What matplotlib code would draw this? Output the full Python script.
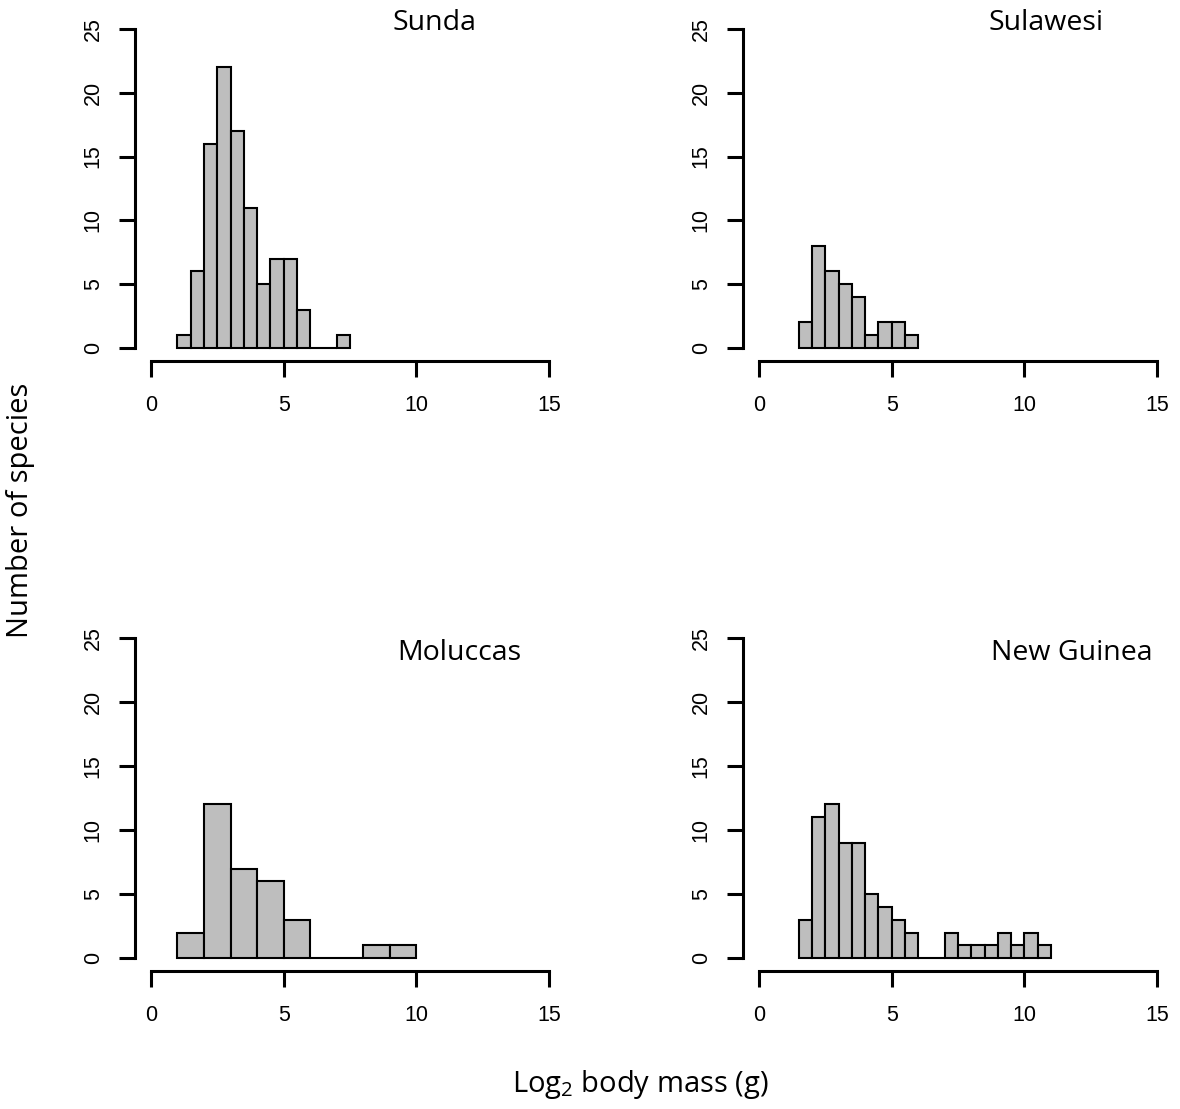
import numpy as np
import matplotlib
matplotlib.use("Agg")
import matplotlib.pyplot as plt

plt.rcParams['mathtext.fontset'] = 'custom'
plt.rcParams['mathtext.rm'] = 'Open Sans'

# bin edges and counts per region
sunda_edges = np.arange(1.0, 7.51, 0.5)
sunda_counts = [1, 6, 16, 22, 17, 11, 5, 7, 7, 3, 0, 0, 1]

sulawesi_edges = np.arange(1.5, 6.01, 0.5)
sulawesi_counts = [2, 8, 6, 5, 4, 1, 2, 2, 1]

moluccas_edges = np.arange(1.0, 10.01, 1.0)
moluccas_counts = [2, 12, 7, 6, 3, 0, 0, 1, 1]

nguinea_edges = np.arange(1.5, 11.01, 0.5)
nguinea_counts = [3, 11, 12, 9, 9, 5, 4, 3, 2, 0, 0, 2, 1, 1, 1, 2, 1, 2, 1]

regions = ["Sunda", "Sulawesi", "Moluccas", "New Guinea"]
xticks = [0, 5, 10, 15]
yticks = [0, 5, 10, 15, 20, 25]

panels = [
    (sunda_edges, sunda_counts),
    (sulawesi_edges, sulawesi_counts),
    (moluccas_edges, moluccas_counts),
    (nguinea_edges, nguinea_counts),
]
# axes boxes in figure fractions [left, bottom, width, height]
boxes = [
    [0.1144, 0.6747, 0.3644, 0.3107],
    [0.6297, 0.6747, 0.3644, 0.3107],
    [0.1144, 0.1244, 0.3644, 0.3120],
    [0.6297, 0.1244, 0.3644, 0.3120],
]
title_pos = [(10.7, 25.5), (10.8, 25.5), (11.6, 23.8), (11.8, 23.8)]

fig = plt.figure(figsize=(11.8, 11.09), dpi=100)

for (edges, counts), box, name, tp in zip(panels, boxes, regions, title_pos):
    ax = fig.add_axes(box)
    ax.bar(edges[:-1], counts, width=np.diff(edges), align='edge',
           color='#bebebe', edgecolor='black', linewidth=1.5)
    ax.set_xlim(-0.6, 15.6)
    ax.set_ylim(-1, 26)
    for s in ['top', 'right']:
        ax.spines[s].set_visible(False)
    ax.spines['left'].set_bounds(0, 25)
    ax.spines['bottom'].set_bounds(0, 15)
    ax.spines['left'].set_linewidth(2.2)
    ax.spines['bottom'].set_linewidth(2.2)
    ax.set_xticks(xticks)
    ax.set_yticks(yticks)
    ax.tick_params(length=11.5, width=2.2, labelsize=15.5)
    ax.tick_params(axis='x', pad=13)
    ax.tick_params(axis='y', pad=11)
    for lab in ax.get_yticklabels():
        lab.set_rotation(90)
        lab.set_verticalalignment('center')
        lab.set_family('Liberation Sans')
    for lab in ax.get_xticklabels():
        lab.set_family('Liberation Sans')
    ax.text(tp[0], tp[1], name, ha='center', va='center',
            fontsize=20.5, family='Open Sans')

fig.text(0.017, 0.54, "Number of species", rotation=90, ha='center',
         va='center', fontsize=21, family='Open Sans')
fig.text(0.543, 0.022, r"Log$_2$ body mass (g)", ha='center', va='center',
         fontsize=21, family='Open Sans')

fig.savefig("out.png", dpi=100)
